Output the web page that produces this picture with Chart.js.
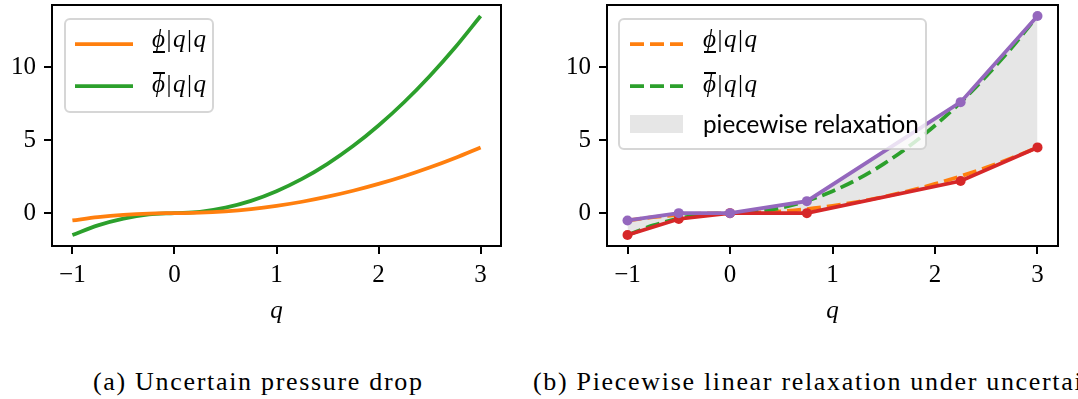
<!DOCTYPE html>
<html><head><meta charset="utf-8">
<script src="https://cdn.jsdelivr.net/npm/chart.js@4.4.0/dist/chart.umd.min.js"></script>
<style>
html,body{margin:0;padding:0;background:#fff;overflow:hidden;width:1078px;height:399px;position:relative}
#c1{position:absolute;left:0;top:0;width:540px;height:340px}
#c2{position:absolute;left:540px;top:0;width:538px;height:340px}
.cap{position:absolute;white-space:nowrap;font-family:"Liberation Serif","DejaVu Serif",serif;font-size:26px;line-height:26px;color:#000}
</style></head><body>
<canvas id="c1" width="540" height="340"></canvas>
<canvas id="c2" width="538" height="340"></canvas>
<div class="cap" id="capA" style="left:93px;top:369px"></div>
<div class="cap" id="capB" style="left:533px;top:369px"></div>
<script>
// ---- data ----
const qCurve      = [-1, -0.75, -0.5, -0.25, 0, 0.25, 0.5, 0.75, 1, 1.25, 1.5, 1.75, 2, 2.25, 2.5, 2.75, 3];
const phiLowCurve = [-0.5, -0.28, -0.125, -0.03, 0, 0.03, 0.125, 0.28, 0.5, 0.78, 1.125, 1.53, 2.0, 2.53, 3.125, 3.78, 4.5];
const phiUpCurve  = [-1.5, -0.84, -0.375, -0.09, 0, 0.09, 0.375, 0.84, 1.5, 2.34, 3.375, 4.59, 6.0, 7.59, 9.375, 11.34, 13.5];
const qBreak      = [-1, -0.5, 0, 0.75, 2.25, 3];
const relaxUpper  = [-0.5, 0, 0, 0.82, 7.6, 13.5];
const relaxLower  = [-1.5, -0.4, 0, 0, 2.2, 4.5];
const xTicks      = [-1, 0, 1, 2, 3];
const xTickLabels = ['\u22121', '0', '1', '2', '3'];
const yTicks      = [0, 5, 10];
const yTickLabels = ['0', '5', '10'];
const legendA     = ['lower', 'upper'];
const legendB     = ['lower', 'upper', 'piecewise relaxation'];
const captions    = ['(a) Uncertain pressure drop', '(b) Piecewise linear relaxation under uncertainty'];

const ORANGE = '#ff7f0e', GREEN = '#2ca02c', PURPLE = '#9467bd', RED = '#d62728', FILL = 'rgb(230,230,230)';
const SERIF = '"Liberation Serif","DejaVu Serif",serif';
const SANS = 'Lato, "DejaVu Sans", sans-serif';

document.getElementById('capA').textContent = captions[0];
document.getElementById('capB').textContent = captions[1];

const pts = (xs, ys) => xs.map((x, i) => ({x, y: ys[i]}));

function scales(yWidth) {
  return {
    x: {
      type: 'linear', min: -1.2, max: 3.2,
      afterBuildTicks: s => { s.ticks = xTicks.map(v => ({value: v})); },
      afterFit: s => { s.height = 94; s.paddingLeft = 0; s.paddingRight = 0; },
      ticks: { callback: v => xTickLabels[xTicks.indexOf(v)], color: '#000', padding: 6, maxRotation: 0, autoSkip: false,
               font: {family: SERIF, size: 25} },
      grid: { display: true, drawOnChartArea: false, drawTicks: true, tickLength: 8, color: '#000', lineWidth: 2 },
      border: { display: false },
      title: { display: true, text: 'q', color: '#000', font: {family: SERIF, size: 25, style: 'italic'}, padding: {top: 0, bottom: 14} }
    },
    y: {
      type: 'linear', min: -2.25, max: 14.25,
      afterBuildTicks: s => { s.ticks = yTicks.map(v => ({value: v})); },
      afterFit: s => { s.width = yWidth; s.paddingTop = 0; s.paddingBottom = 0; },
      ticks: { callback: v => yTickLabels[yTicks.indexOf(v)], color: '#000', padding: 8, autoSkip: false,
               font: {family: SERIF, size: 25} },
      grid: { display: true, drawOnChartArea: false, drawTicks: true, tickLength: 8, color: '#000', lineWidth: 2 },
      border: { display: false }
    }
  };
}

function mathLabel(ctx, x, base, bar, size) {
  const it = `italic ${size}px ${SERIF}`, up = `${size}px ${SERIF}`;
  ctx.fillStyle = '#000'; ctx.textBaseline = 'alphabetic'; ctx.textAlign = 'left';
  let cx = x;
  ctx.font = it; ctx.fillText('\u03D5', cx, base);
  const pw = ctx.measureText('\u03D5').width;
  ctx.fillRect(cx + 1, bar === 'lower' ? base + 4 : base - size * 0.8, pw - 1, 2);
  cx += pw + 1.5;
  ctx.font = up; ctx.fillText('|', cx, base); cx += ctx.measureText('|').width + 1.5;
  ctx.font = it; ctx.fillText('q', cx, base); cx += ctx.measureText('q').width + 1.5;
  ctx.font = up; ctx.fillText('|', cx, base); cx += ctx.measureText('|').width + 1.5;
  ctx.font = it; ctx.fillText('q', cx, base);
}

function roundRectPath(ctx, x0, y0, x1, y1, r) {
  ctx.beginPath();
  ctx.moveTo(x0 + r, y0); ctx.lineTo(x1 - r, y0); ctx.arcTo(x1, y0, x1, y0 + r, r);
  ctx.lineTo(x1, y1 - r); ctx.arcTo(x1, y1, x1 - r, y1, r);
  ctx.lineTo(x0 + r, y1); ctx.arcTo(x0, y1, x0, y1 - r, r);
  ctx.lineTo(x0, y0 + r); ctx.arcTo(x0, y0, x0 + r, y0, r);
  ctx.closePath();
}

function overlay(cfg) {
  return {
    id: 'overlay',
    afterDraw(chart) {
      const ctx = chart.ctx, a = chart.chartArea;
      ctx.save();
      ctx.strokeStyle = '#000'; ctx.lineWidth = 2; ctx.setLineDash([]);
      ctx.strokeRect(a.left, a.top, a.right - a.left, a.bottom - a.top);
      const [bx0, by0, bx1, by1] = cfg.box;
      roundRectPath(ctx, bx0, by0, bx1, by1, 5);
      ctx.fillStyle = 'rgba(255,255,255,0.8)'; ctx.fill();
      ctx.strokeStyle = 'rgba(204,204,204,0.8)'; ctx.lineWidth = 2; ctx.stroke();
      cfg.rows.forEach(r => {
        if (r.kind === 'patch') {
          ctx.fillStyle = r.color; ctx.fillRect(cfg.sx0, r.y - 9, cfg.sx1 - cfg.sx0, 18);
          ctx.fillStyle = '#000'; ctx.textBaseline = 'alphabetic'; ctx.textAlign = 'left';
          let size = 24; ctx.font = `${size}px ${SANS}`;
          const w = ctx.measureText(r.text).width; size = size * 216 / w;
          ctx.font = `${size}px ${SANS}`;
          ctx.fillText(r.text, cfg.tx, r.base);
        } else {
          ctx.strokeStyle = r.color; ctx.lineWidth = 3.75; ctx.lineCap = 'butt';
          ctx.setLineDash(r.dash || []);
          ctx.beginPath(); ctx.moveTo(cfg.sx0, r.y); ctx.lineTo(cfg.sx1, r.y); ctx.stroke();
          ctx.setLineDash([]);
          mathLabel(ctx, cfg.tx, r.base, r.bar, 25);
        }
      });
      ctx.restore();
    }
  };
}

Chart.defaults.animation = false;

new Chart(document.getElementById('c1'), {
  type: 'scatter',
  data: { datasets: [
    { data: pts(qCurve, phiLowCurve), showLine: true, borderColor: ORANGE, borderWidth: 3.75, pointRadius: 0, cubicInterpolationMode: 'monotone' },
    { data: pts(qCurve, phiUpCurve), showLine: true, borderColor: GREEN, borderWidth: 3.75, pointRadius: 0, cubicInterpolationMode: 'monotone' }
  ]},
  options: {
    responsive: false, animation: false,
    layout: { padding: { top: 5, right: 39, left: 0, bottom: 0 } },
    plugins: { legend: { display: false }, tooltip: { enabled: false } },
    scales: scales(52)
  },
  plugins: [overlay({
    box: [65, 19, 213, 112], sx0: 75, sx1: 133, tx: 152,
    rows: [
      { kind: 'line', color: ORANGE, y: 44, base: 47, bar: legendA[0] },
      { kind: 'line', color: GREEN, y: 86, base: 92, bar: legendA[1] }
    ]
  })]
});

new Chart(document.getElementById('c2'), {
  type: 'scatter',
  data: { datasets: [
    { data: pts(qBreak, relaxUpper), showLine: true, borderColor: PURPLE, borderWidth: 3.75, pointRadius: 5, pointBackgroundColor: PURPLE, pointBorderWidth: 0,
      backgroundColor: FILL, fill: { target: 1 } },
    { data: pts(qBreak, relaxLower), showLine: true, borderColor: RED, borderWidth: 3.75, pointRadius: 5, pointBackgroundColor: RED, pointBorderWidth: 0 },
    { data: pts(qCurve, phiUpCurve), showLine: true, borderColor: GREEN, borderWidth: 3.75, borderDash: [14, 6], pointRadius: 0, cubicInterpolationMode: 'monotone' },
    { data: pts(qCurve, phiLowCurve), showLine: true, borderColor: ORANGE, borderWidth: 3.75, borderDash: [14, 6], pointRadius: 0, cubicInterpolationMode: 'monotone' }
  ]},
  options: {
    responsive: false, animation: false,
    layout: { padding: { top: 5, right: 20, left: 0, bottom: 0 } },
    plugins: { legend: { display: false }, tooltip: { enabled: false }, filler: { drawTime: 'beforeDatasetsDraw' } },
    scales: scales(67)
  },
  plugins: [overlay({
    box: [79, 19, 386, 149], sx0: 90, sx1: 143, tx: 163,
    rows: [
      { kind: 'line', color: ORANGE, dash: [14, 6], y: 44, base: 47, bar: legendB[0] },
      { kind: 'line', color: GREEN, dash: [14, 6], y: 86, base: 92, bar: legendB[1] },
      { kind: 'patch', color: FILL, y: 124, base: 133, text: legendB[2] }
    ]
  })]
});

// caption spacing to match reference width
(function(){
  const a = document.getElementById('capA'), b = document.getElementById('capB');
  const target = 329, w = a.getBoundingClientRect().width;
  const ls = Math.max(0, (target - w) / (captions[0].length - 1));
  a.style.letterSpacing = ls + 'px'; b.style.letterSpacing = ls + 'px';
})();
</script>
</body></html>
